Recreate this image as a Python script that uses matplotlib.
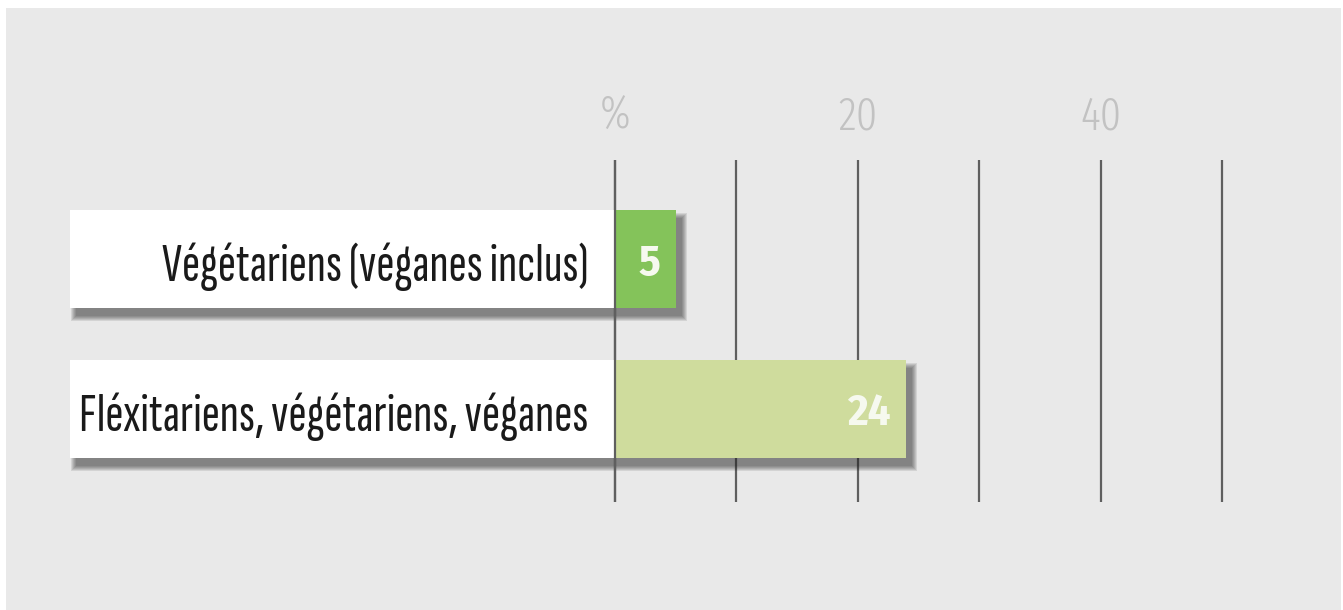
#!/usr/bin/env python3

import matplotlib
matplotlib.use('Agg')
from matplotlib import pyplot as plt
from matplotlib.patches import Rectangle

categories = ['Végétariens (véganes inclus)', 'Fléxitariens, végétariens, véganes']
values = [5, 24]
bar_colors = ['#84c35a', '#cfdc9d']
ticks = [0, 20, 40]
tick_labels = ['%', '20', '40']
grid_values = [0, 10, 20, 30, 40, 50]

W, H = 1343, 610
PX_PER_UNIT = 12.14  # pixels per percentage point
X0_PX = 615          # pixel position of 0

def px2x(px):
    return (px - X0_PX) / PX_PER_UNIT

def main():
    fig = plt.figure(figsize=(W / 100, H / 100), dpi=100)
    fig.patch.set_facecolor('white')
    ax = fig.add_axes([0, 0, 1, 1])
    ax.set_xlim(px2x(0), px2x(W))
    ax.set_ylim(H, 0)
    ax.axis('off')

    # grey panel
    ax.add_patch(Rectangle((px2x(6), 8), (W - 8) / PX_PER_UNIT, H - 8,
                           facecolor='#e9e9e9', edgecolor='none', zorder=0))

    # grid lines
    ax.vlines(grid_values, 160, 502, color='#5f5f5f', lw=1.6, zorder=1)

    # tick labels
    for t, lab in zip(ticks, tick_labels):
        ax.text(t, 129, lab, ha='center', va='baseline', fontsize=33,
                family='Fira Sans Extra Condensed', fontweight=300, color='#c2c2c2')

    centers = [259, 409]
    bar_h = 98
    label_left = px2x(70)
    for i, (cat, v) in enumerate(zip(categories, values)):
        y = centers[i]
        # soft shadow behind box + bar
        for k in range(6):
            grow = 5 - k
            ax.add_patch(Rectangle((label_left + (6 - grow) / PX_PER_UNIT,
                                    y - bar_h / 2 + 8 - grow),
                                   v - label_left + (2 * grow) / PX_PER_UNIT,
                                   bar_h + 2 * grow,
                                   facecolor='#222222', edgecolor='none',
                                   alpha=0.11, zorder=2))
        # white label box
        ax.add_patch(Rectangle((label_left, y - bar_h / 2), -label_left, bar_h,
                               facecolor='white', edgecolor='none', zorder=3))
        ax.text(px2x(588), y + 22, cat, ha='right', va='baseline', fontsize=39.5,
                family=['Sofia Sans Extra Condensed', 'DejaVu Sans'],
                color='#1a1a1a', zorder=5)
    ax.barh(centers, values, height=bar_h, color=bar_colors, zorder=3)
    for y, v in zip(centers, values):
        ax.text(v - 1.3, y + 16, str(v), ha='right', va='baseline', fontsize=32,
                family=['Fira Sans Condensed', 'DejaVu Sans'],
                fontweight='bold', color='#f6f9ef', zorder=5)

    # zero line on top
    ax.vlines([0], 160, 502, color='#5f5f5f', lw=1.6, zorder=4)

    fig.savefig('out.png', dpi=100, facecolor=fig.get_facecolor())

if '__main__' == __name__:
    main()
